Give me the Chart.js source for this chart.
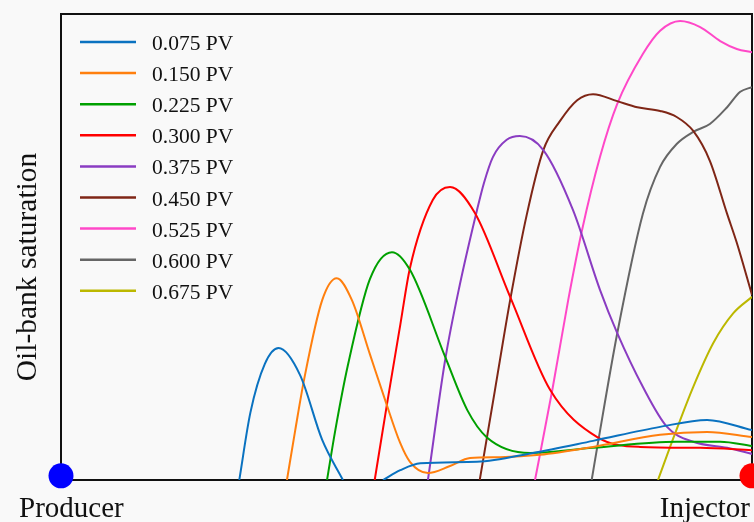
<!DOCTYPE html>
<html>
<head>
<meta charset="utf-8">
<script src="https://cdn.jsdelivr.net/npm/chart.js@4.4.1/dist/chart.umd.min.js"></script>
<style>
  html, body { margin: 0; padding: 0; background: #f9f9f9; }
  #wrap { width: 754px; height: 522px; position: relative; }
</style>
</head>
<body>
<div id="wrap"><canvas id="oilBankChart" width="754" height="522"></canvas></div>
<script>
// Injected pore volumes, one curve each
const pvLabels = ['0.075 PV', '0.150 PV', '0.225 PV', '0.300 PV', '0.375 PV', '0.450 PV', '0.525 PV', '0.600 PV', '0.675 PV'];
const pvColors = ['#0a72c0', '#ff7f0e', '#00a000', '#ff0000', '#8a3cc2', '#7f2616', '#ff48c8', '#666666', '#bcb800'];

// distance from producer (0) to injector (100), oil-bank saturation (0-100)
const pos075 = [25.8, 27.4, 29.5, 31.5, 34.6, 37.8, 40.8, 43.0, 46.6, 49.1, 52.0, 60.2, 68.3, 77.0, 86.7, 93.5, 100];
const sat075 = [0, 14.4, 24.9, 28.3, 22.5, 8.6, 0, null, 0, 2.1, 3.6, 3.9, 5.8, 8.4, 11.4, 12.9, 10.7];

const pos150 = [32.7, 33.9, 35.2, 37.8, 39.9, 42.1, 44.7, 46.9, 49.1, 50.5, 53.1, 56.3, 59.2, 63.5, 69.3, 77.0, 86.7, 93.5, 100];
const sat150 = [0, 10.7, 21.7, 38.6, 43.3, 38.6, 27.0, 17.2, 7.9, 3.9, 1.5, 3.0, 4.7, 4.9, 5.4, 7.1, 9.7, 10.3, 9.2];

const pos225 = [38.5, 39.7, 41.5, 44.7, 47.9, 50.5, 55.6, 58.8, 61.6, 67.9, 77.0, 89.1, 95.4, 100];
const sat225 = [0, 10.7, 24.5, 43.1, 48.9, 45.1, 26.4, 15.0, 9.2, 5.8, 6.9, 8.2, 8.2, 7.3];

const pos300 = [45.4, 47.2, 49.1, 50.5, 53.8, 56.3, 59.9, 65.0, 70.8, 77.6, 83.8, 92.5, 100];
const sat300 = [0, 16.5, 33.3, 45.5, 60.1, 62.9, 57.3, 39.3, 19.3, 9.2, 7.1, 6.9, 6.4];

const pos375 = [53.1, 55.6, 57.7, 60.2, 61.2, 62.5, 64.5, 66.4, 69.8, 74.1, 78.0, 80.5, 84.2, 87.7, 91.5, 96.4, 100];
const sat375 = [0, 25.8, 41.8, 57.9, 63.7, 69.3, 73.0, 73.8, 70.8, 57.9, 40.8, 31.5, 20.0, 11.4, 8.2, 6.9, 5.6];

const pos450 = [60.6, 62.8, 65.0, 67.4, 69.8, 72.2, 74.7, 77.0, 80.5, 83.4, 86.7, 89.1, 91.5, 93.9, 96.4, 97.8, 100];
const sat450 = [0, 19.3, 38.6, 56.9, 70.8, 77.0, 81.5, 82.8, 81.3, 80.0, 79.2, 77.9, 74.9, 68.5, 57.1, 50.9, 39.7];

const pos525 = [68.6, 71.1, 73.4, 75.4, 78.0, 80.5, 84.2, 86.7, 89.6, 92.5, 95.4, 97.8, 100];
const sat525 = [0, 19.3, 38.6, 53.6, 69.3, 80.7, 91.4, 96.4, 98.5, 97.2, 94.2, 92.5, 91.8];

const pos600 = [76.8, 77.7, 80.5, 84.2, 86.7, 89.1, 91.5, 93.9, 96.4, 98.3, 100];
const sat600 = [0, 7.9, 31.5, 57.1, 67.2, 72.1, 74.7, 76.4, 80.0, 83.3, 84.3];

const pos675 = [86.4, 88.9, 91.5, 94.4, 97.3, 100];
const sat675 = [0, 10.1, 20.0, 29.4, 35.8, 39.3];

const allPos = [pos075, pos150, pos225, pos300, pos375, pos450, pos525, pos600, pos675];
const allSat = [sat075, sat150, sat225, sat300, sat375, sat450, sat525, sat600, sat675];

// well markers at both ends of the axis
const wellPos = [0, 100];
const wellSat = [0.9, 0.9];
const wellColors = ['#0000ff', '#ff0000'];

const SERIF = '"Liberation Serif", "Times New Roman", serif';

const datasets = allPos.map((xs, i) => ({
    type: 'line',
    label: pvLabels[i],
    data: xs.map((x, j) => ({ x: x, y: allSat[i][j] })),
    borderColor: pvColors[i],
    borderWidth: 2,
    pointRadius: 0,
    fill: false,
    cubicInterpolationMode: 'monotone',
    spanGaps: false
}));

datasets.push({
    type: 'scatter',
    label: 'wells',
    data: wellPos.map((x, j) => ({ x: x, y: wellSat[j] })),
    backgroundColor: wellColors,
    borderWidth: 0,
    pointRadius: 12.5,
    pointHoverRadius: 12.5,
    clip: false
});

// frame, axis text and legend drawn by hand
const framePlugin = {
    id: 'frame',
    beforeDatasetsDraw(chart) {
        const { ctx, chartArea: a } = chart;
        ctx.save();
        ctx.strokeStyle = '#111';
        ctx.lineWidth = 2;
        ctx.strokeRect(a.left, a.top, a.right - a.left, a.bottom - a.top);
        ctx.restore();
    },
    afterDraw(chart) {
        const { ctx } = chart;
        ctx.save();
        ctx.fillStyle = '#111';
        ctx.font = '29px ' + SERIF;
        ctx.textBaseline = 'alphabetic';
        ctx.textAlign = 'left';
        ctx.fillText('Producer', 19, 517);
        ctx.textAlign = 'right';
        ctx.fillText('Injector', 750, 517);

        ctx.translate(36, 267);
        ctx.rotate(-Math.PI / 2);
        ctx.textAlign = 'center';
        ctx.font = '29.5px ' + SERIF;
        ctx.fillText('Oil-bank saturation', 0, 0);
        ctx.restore();

        // legend
        ctx.save();
        ctx.font = '21.5px ' + SERIF;
        ctx.textAlign = 'left';
        ctx.textBaseline = 'alphabetic';
        pvLabels.forEach((lbl, i) => {
            const y = 42 + i * 31.1;
            ctx.strokeStyle = pvColors[i];
            ctx.lineWidth = 2.5;
            ctx.beginPath();
            ctx.moveTo(80, y);
            ctx.lineTo(136, y);
            ctx.stroke();
            ctx.fillStyle = '#111';
            ctx.fillText(lbl, 152, y + 8);
        });
        ctx.restore();
    }
};

new Chart(document.getElementById('oilBankChart'), {
    data: { datasets: datasets },
    options: {
        responsive: false,
        animation: false,
        events: [],
        layout: { autoPadding: false, padding: { left: 61, right: 2, top: 14, bottom: 42 } },
        plugins: { legend: { display: false }, tooltip: { enabled: false } },
        scales: {
            x: { type: 'linear', min: 0, max: 100, display: false },
            y: { type: 'linear', min: 0, max: 100, display: false }
        }
    },
    plugins: [framePlugin]
});
</script>
</body>
</html>
